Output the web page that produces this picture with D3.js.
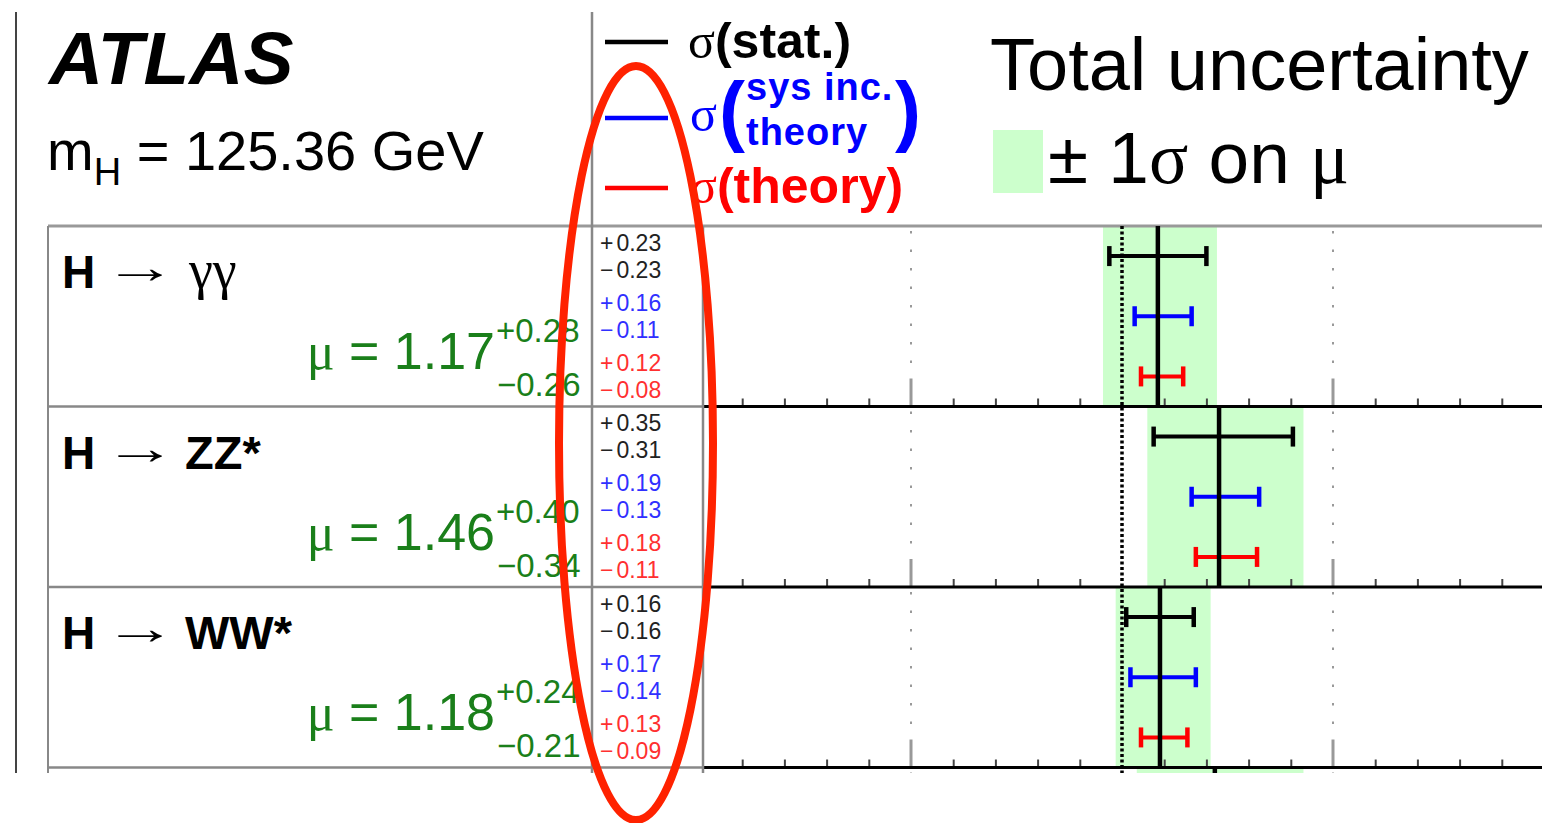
<!DOCTYPE html>
<html><head><meta charset="utf-8">
<script src="https://cdn.jsdelivr.net/npm/d3@7"></script>
<style>body{margin:0;background:#fff}svg{display:block}</style>
</head><body><svg id="c" width="1542" height="823"></svg>
<script>
// ---- data ----
const channels = ["γγ", "ZZ*", "WW*", "ττ"];
const greekChannel = [true, false, false, true];
const mu    = [1.17, 1.46, 1.18, 1.44];
const totUp = [0.28, 0.40, 0.24, 0.42];
const totDn = [0.26, 0.34, 0.21, 0.37];
const statUp = [0.23, 0.35, 0.16];
const statDn = [0.23, 0.31, 0.16];
const sysUp  = [0.16, 0.19, 0.17];
const sysDn  = [0.11, 0.13, 0.14];
const thUp   = [0.12, 0.18, 0.13];
const thDn   = [0.08, 0.11, 0.09];
const xDomain = [-1, 3];
const majorTicks = [0, 2];
const minorStep = 0.2;
const smValue = 1;

// ---- setup ----
const sans = "'Liberation Sans', Arial, Helvetica, sans-serif";
const serif = "'Liberation Serif', 'Times New Roman', serif";
const svg = d3.select("#c");
const W = 1542, clipBottom = 773;
const outerL = 16, tabL = 48, sepX = 592, plotL = 703;
const x = d3.scaleLinear().domain(xDomain).range([700, 1544]);
const row = d3.scaleLinear().domain([0, 4]).range([226, 948]);
const rowH = row(1) - row(0);
const nRows = mu.length;
const nFull = statUp.length;

svg.append("defs").append("clipPath").attr("id", "clip")
  .append("rect").attr("x", 0).attr("y", 0).attr("width", W).attr("height", clipBottom);
const g = svg.append("g").attr("clip-path", "url(#clip)");

const rows = d3.range(nRows);

// green total-uncertainty bands
g.selectAll(".band").data(rows).join("rect")
  .attr("x", i => x(mu[i] - totDn[i]))
  .attr("width", i => x(mu[i] + totUp[i]) - x(mu[i] - totDn[i]))
  .attr("y", i => row(i)).attr("height", rowH)
  .attr("fill", "#ccffcc");

// gridlines, ticks, axes
rows.forEach(i => {
  majorTicks.forEach(t => {
    g.append("line").attr("x1", x(t)).attr("x2", x(t))
      .attr("y1", row(i) + 5).attr("y2", row(i + 1) - 28)
      .attr("stroke", "#999").attr("stroke-width", 2).attr("stroke-dasharray", "2.5,16");
    g.append("line").attr("x1", x(t)).attr("x2", x(t))
      .attr("y1", row(i + 1) - 28).attr("y2", row(i + 1))
      .attr("stroke", "#999").attr("stroke-width", 3);
  });
  const minor = d3.range(Math.round(xDomain[0] / minorStep), Math.round(xDomain[1] / minorStep) + 1)
    .filter(k => k % 5 !== 0).map(k => k * minorStep);
  const ax = d3.axisTop(x).tickValues(minor).tickSize(8).tickFormat("");
  const ag = g.append("g").attr("transform", `translate(0,${row(i + 1)})`).call(ax);
  ag.select(".domain").remove();
  ag.selectAll(".tick line").attr("stroke", "#444").attr("stroke-width", 2);
  g.append("line").attr("x1", plotL).attr("x2", W).attr("y1", row(i + 1)).attr("y2", row(i + 1))
    .attr("stroke", "#000").attr("stroke-width", 3);
  g.append("line").attr("x1", tabL).attr("x2", plotL).attr("y1", row(i + 1)).attr("y2", row(i + 1))
    .attr("stroke", "#888").attr("stroke-width", 2.5);
});

// top line
g.append("line").attr("x1", tabL).attr("x2", W).attr("y1", row(0)).attr("y2", row(0))
  .attr("stroke", "#999").attr("stroke-width", 3);

// vertical frame lines
[[outerL, 12, "#444", 2], [sepX, 12, "#888", 2.5], [tabL, row(0), "#888", 2], [plotL, row(0), "#888", 2.5]]
  .forEach(([xx, y1, c, w]) => {
    g.append("line").attr("x1", xx).attr("x2", xx).attr("y1", y1).attr("y2", clipBottom)
      .attr("stroke", c).attr("stroke-width", w);
  });

// SM line
g.append("line").attr("x1", x(smValue)).attr("x2", x(smValue))
  .attr("y1", row(0)).attr("y2", clipBottom)
  .attr("stroke", "#000").attr("stroke-width", 3.5).attr("stroke-dasharray", "3,2.5");

// error bars
const bars = [
  {up: statUp, dn: statDn, color: "#000", frac: 1 / 6, txt: "#222"},
  {up: sysUp, dn: sysDn, color: "#0000ff", frac: 1 / 2, txt: "#3030ff"},
  {up: thUp, dn: thDn, color: "#ff0000", frac: 5 / 6, txt: "#ff3030"}
];
const fmt = d3.format(".2f");
bars.forEach(b => {
  const idx = d3.range(b.up.length);
  const yb = i => row(i) + rowH * b.frac;
  g.selectAll(null).data(idx).join("line")
    .attr("x1", i => x(mu[i] - b.dn[i])).attr("x2", i => x(mu[i] + b.up[i]))
    .attr("y1", yb).attr("y2", yb).attr("stroke", b.color).attr("stroke-width", 4);
  ["lo", "hi"].forEach(side => {
    const xv = i => side === "lo" ? x(mu[i] - b.dn[i]) : x(mu[i] + b.up[i]);
    g.selectAll(null).data(idx).join("line")
      .attr("x1", xv).attr("x2", xv)
      .attr("y1", i => yb(i) - 10).attr("y2", i => yb(i) + 10)
      .attr("stroke", b.color).attr("stroke-width", 4.5);
  });
  idx.forEach(i => {
    [["+", b.up[i], -13.5], ["−", b.dn[i], 13.5]].forEach(([s, v, off]) => {
      const t = g.append("text").attr("x", 600).attr("y", yb(i) + off + 8)
        .attr("font-family", sans).attr("font-size", 23).attr("fill", b.txt);
      t.append("tspan").text(s);
      t.append("tspan").attr("dx", 3).text(fmt(v));
    });
  });
});

// central values
g.selectAll(".cv").data(rows).join("line")
  .attr("x1", i => x(mu[i])).attr("x2", i => x(mu[i]))
  .attr("y1", i => row(i)).attr("y2", i => row(i + 1))
  .attr("stroke", "#000").attr("stroke-width", 4.5);

// row labels and mu values (rows fully inside the picture)
const green = "#1a7f1a";
d3.range(nFull).forEach(i => {
  const yr = row(i);
  g.append("text").attr("x", 62).attr("y", yr + 62).attr("font-size", 46)
    .attr("font-family", sans).attr("font-weight", "bold").text("H");
  g.append("text").attr("transform", `translate(103,${yr + 57}) scale(1.6,1)`)
    .attr("font-size", 46).attr("font-family", serif).text("→");
  g.append("text").attr("x", greekChannel[i] ? 189 : 185).attr("y", yr + 62)
    .attr("font-family", greekChannel[i] ? serif : sans)
    .attr("font-weight", greekChannel[i] ? "normal" : "bold")
    .attr("font-size", greekChannel[i] ? 54 : 47)
    .text(channels[i]);

  const mt = g.append("text").attr("x", 495).attr("y", yr + 143).attr("text-anchor", "end")
    .attr("font-size", 52).attr("fill", green);
  mt.append("tspan").attr("font-family", serif).text("μ");
  mt.append("tspan").attr("font-family", sans).text(" = " + fmt(mu[i]));
  g.append("text").attr("x", 496).attr("y", yr + 116).attr("font-family", sans)
    .attr("font-size", 33).attr("fill", green).text("+" + fmt(totUp[i]));
  g.append("text").attr("x", 497).attr("y", yr + 170).attr("font-family", sans)
    .attr("font-size", 33).attr("fill", green).text("−" + fmt(totDn[i]));
});

// ---- header ----
svg.append("text").attr("x", 49).attr("y", 84).attr("font-family", sans)
  .attr("font-weight", "bold").attr("font-style", "italic").attr("font-size", 75).text("ATLAS");
const mh = svg.append("text").attr("x", 47).attr("y", 170).attr("font-family", sans).attr("font-size", 56);
mh.append("tspan").text("m");
mh.append("tspan").attr("font-size", 38).attr("dy", 15).text("H");
mh.append("tspan").attr("dy", -15).text(" = 125.36 GeV");

// legend
const legX1 = 605, legX2 = 668;
[[42, "#000"], [118, "#0000ff"], [188, "#ff0000"]].forEach(([yy, c]) => {
  svg.append("line").attr("x1", legX1).attr("x2", legX2).attr("y1", yy).attr("y2", yy)
    .attr("stroke", c).attr("stroke-width", 4.5);
});
const l1 = svg.append("text").attr("x", 688).attr("y", 58).attr("font-size", 50).attr("fill", "#000");
l1.append("tspan").attr("font-family", serif).text("σ");
l1.append("tspan").attr("font-family", sans).attr("font-weight", "bold").text("(stat.)");

svg.append("text").attr("x", 690).attr("y", 131).attr("font-size", 50).attr("fill", "#0000ff")
  .attr("font-family", serif).text("σ");
svg.append("text").attr("x", 719).attr("y", 137).attr("font-size", 78).attr("fill", "#0000ff")
  .attr("font-family", sans).attr("font-weight", "bold").text("(");
svg.append("text").attr("x", 895).attr("y", 137).attr("font-size", 78).attr("fill", "#0000ff")
  .attr("font-family", sans).attr("font-weight", "bold").text(")");
svg.append("text").attr("x", 746).attr("y", 100).attr("font-size", 38).attr("fill", "#0000ff")
  .attr("font-family", sans).attr("font-weight", "bold").attr("letter-spacing", 1).text("sys inc.");
svg.append("text").attr("x", 746).attr("y", 145).attr("font-size", 38).attr("fill", "#0000ff")
  .attr("font-family", sans).attr("font-weight", "bold").attr("letter-spacing", 1).text("theory");

const l3 = svg.append("text").attr("x", 690).attr("y", 203).attr("font-size", 50).attr("fill", "#ff0000");
l3.append("tspan").attr("font-family", serif).text("σ");
l3.append("tspan").attr("font-family", sans).attr("font-weight", "bold").text("(theory)");

svg.append("text").attr("x", 990).attr("y", 90).attr("font-family", sans).attr("font-size", 74)
  .attr("fill", "#000").text("Total uncertainty");
svg.append("rect").attr("x", 993).attr("y", 130).attr("width", 50).attr("height", 63).attr("fill", "#ccffcc");
const t2 = svg.append("text").attr("x", 1048).attr("y", 183).attr("font-size", 73).attr("fill", "#000");
t2.append("tspan").attr("font-family", sans).text("± 1");
t2.append("tspan").attr("font-family", serif).text("σ");
t2.append("tspan").attr("font-family", sans).text(" on ");
t2.append("tspan").attr("font-family", serif).text("μ");

// annotation ellipse
svg.append("ellipse").attr("cx", 636).attr("cy", 443).attr("rx", 77).attr("ry", 377)
  .attr("fill", "none").attr("stroke", "#ff2200").attr("stroke-width", 8);
</script></body></html>
